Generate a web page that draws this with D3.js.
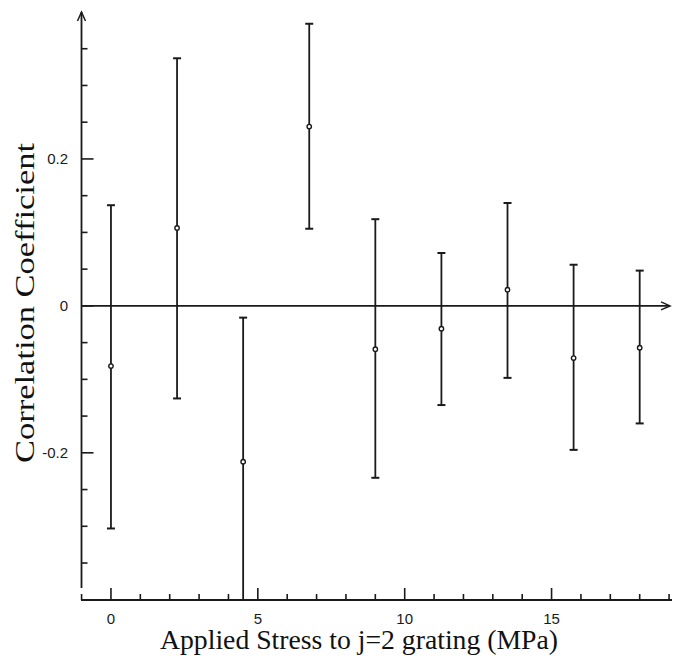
<!DOCTYPE html>
<html>
<head>
<meta charset="utf-8">
<script src="https://cdn.jsdelivr.net/npm/d3@7"></script>
<style>
  html, body { margin: 0; padding: 0; background: #fff; }
  svg { display: block; }
</style>
</head>
<body>
<svg id="chart" width="680" height="658"></svg>
<script>
// Data
const stress = [0, 2.25, 4.5, 6.75, 9, 11.25, 13.5, 15.75, 18];
const coeff  = [-0.082, 0.106, -0.212, 0.244, -0.059, -0.031, 0.022, -0.071, -0.057];
const upper  = [0.137, 0.337, -0.016, 0.384, 0.118, 0.072, 0.140, 0.056, 0.048];
const lower  = [-0.303, -0.126, -0.45, 0.105, -0.234, -0.135, -0.098, -0.196, -0.160];
const xMajorTicks = [0, 5, 10, 15];
const yMajorTicks = [-0.2, 0, 0.2];
const yTickLabels = ["-0.2", "0", "0.2"];
const xLabel = "Applied Stress to j=2 grating (MPa)";
const yLabel = "Correlation Coefficient";

const svg = d3.select("#chart");
const ink = "#1a1a1a";

const x = d3.scaleLinear().domain([-1.02, 19.1]).range([81, 672]);
const y = d3.scaleLinear().domain([-0.384, 0.4]).range([588, 12]);

// clip for error bars (down to x-axis line)
svg.append("defs").append("clipPath").attr("id", "clip")
  .append("rect").attr("x", 70).attr("y", 0).attr("width", 610).attr("height", 600);

// Y axis
const yAxisX = 81.5;
svg.append("line").attr("x1", yAxisX).attr("x2", yAxisX)
  .attr("y1", y(0.4)).attr("y2", y(-0.384))
  .attr("stroke", ink).attr("stroke-width", 1.8);
svg.append("path")
  .attr("d", `M${yAxisX-4},${y(0.4)+9} L${yAxisX},${y(0.4)} L${yAxisX+4},${y(0.4)+9}`)
  .attr("fill", "none").attr("stroke", ink).attr("stroke-width", 1.5);

const yMinor = d3.range(-0.35, 0.4, 0.05).map(v => Math.round(v * 100) / 100);
svg.append("g").selectAll("line").data(yMinor).join("line")
  .attr("x1", yAxisX).attr("x2", d => yAxisX + (yMajorTicks.some(m => Math.abs(m - d) < 1e-9) ? 12 : 6))
  .attr("y1", d => y(d)).attr("y2", d => y(d))
  .attr("stroke", ink).attr("stroke-width", 1.6);

svg.append("g").selectAll("text").data(yMajorTicks).join("text")
  .attr("x", 68).attr("y", d => y(d) + 5)
  .attr("text-anchor", "end")
  .attr("font-family", "Liberation Sans, Arial, sans-serif")
  .attr("font-size", 15).attr("fill", ink)
  .text((d, i) => yTickLabels[i]);

// X axis
const xAxisY = 600;
svg.append("line").attr("x1", 81).attr("x2", 672)
  .attr("y1", xAxisY).attr("y2", xAxisY)
  .attr("stroke", ink).attr("stroke-width", 1.8);
const xMinor = d3.range(-1, 20, 1).filter(v => x(v) >= 81 && x(v) <= 672);
svg.append("g").selectAll("line").data(xMinor).join("line")
  .attr("x1", d => x(d)).attr("x2", d => x(d))
  .attr("y1", xAxisY).attr("y2", d => xAxisY - (xMajorTicks.includes(d) ? 12 : 6))
  .attr("stroke", ink).attr("stroke-width", 1.6);
svg.append("g").selectAll("text").data(xMajorTicks).join("text")
  .attr("x", d => x(d)).attr("y", 624)
  .attr("text-anchor", "middle")
  .attr("font-family", "Liberation Sans, Arial, sans-serif")
  .attr("font-size", 15).attr("fill", ink)
  .text(d => d);

// Zero line with arrow
svg.append("line").attr("x1", yAxisX).attr("x2", 670)
  .attr("y1", y(0)).attr("y2", y(0))
  .attr("stroke", ink).attr("stroke-width", 1.8);
svg.append("path")
  .attr("d", `M661,${y(0)-4} L670,${y(0)} L661,${y(0)+4}`)
  .attr("fill", "none").attr("stroke", ink).attr("stroke-width", 1.5);

// Error bars
const g = svg.append("g").attr("clip-path", "url(#clip)");
const idx = d3.range(stress.length);
g.selectAll("line.bar").data(idx).join("line").attr("class", "bar")
  .attr("x1", i => x(stress[i])).attr("x2", i => x(stress[i]))
  .attr("y1", i => y(upper[i])).attr("y2", i => y(lower[i]))
  .attr("stroke", ink).attr("stroke-width", 1.8);
g.selectAll("line.capT").data(idx).join("line").attr("class", "capT")
  .attr("x1", i => x(stress[i]) - 4).attr("x2", i => x(stress[i]) + 4)
  .attr("y1", i => y(upper[i])).attr("y2", i => y(upper[i]))
  .attr("stroke", ink).attr("stroke-width", 2);
g.selectAll("line.capB").data(idx).join("line").attr("class", "capB")
  .attr("x1", i => x(stress[i]) - 4).attr("x2", i => x(stress[i]) + 4)
  .attr("y1", i => y(lower[i])).attr("y2", i => y(lower[i]))
  .attr("stroke", ink).attr("stroke-width", 2);
g.selectAll("circle").data(idx).join("circle")
  .attr("cx", i => x(stress[i])).attr("cy", i => y(coeff[i]))
  .attr("r", 2.2).attr("fill", "#fff").attr("stroke", ink).attr("stroke-width", 1.4);

// Axis titles
svg.append("text")
  .attr("x", 359).attr("y", 649)
  .attr("text-anchor", "middle")
  .attr("font-family", "Liberation Serif, Times New Roman, serif")
  .attr("font-size", 27).attr("fill", "#111")
  .attr("textLength", 398).attr("lengthAdjust", "spacingAndGlyphs")
  .text(xLabel);

svg.append("text")
  .attr("transform", `translate(34,303) rotate(-90)`)
  .attr("text-anchor", "middle")
  .attr("font-family", "Liberation Serif, Times New Roman, serif")
  .attr("font-size", 27).attr("fill", "#111")
  .attr("textLength", 320).attr("lengthAdjust", "spacingAndGlyphs")
  .text(yLabel);
</script>
</body>
</html>
